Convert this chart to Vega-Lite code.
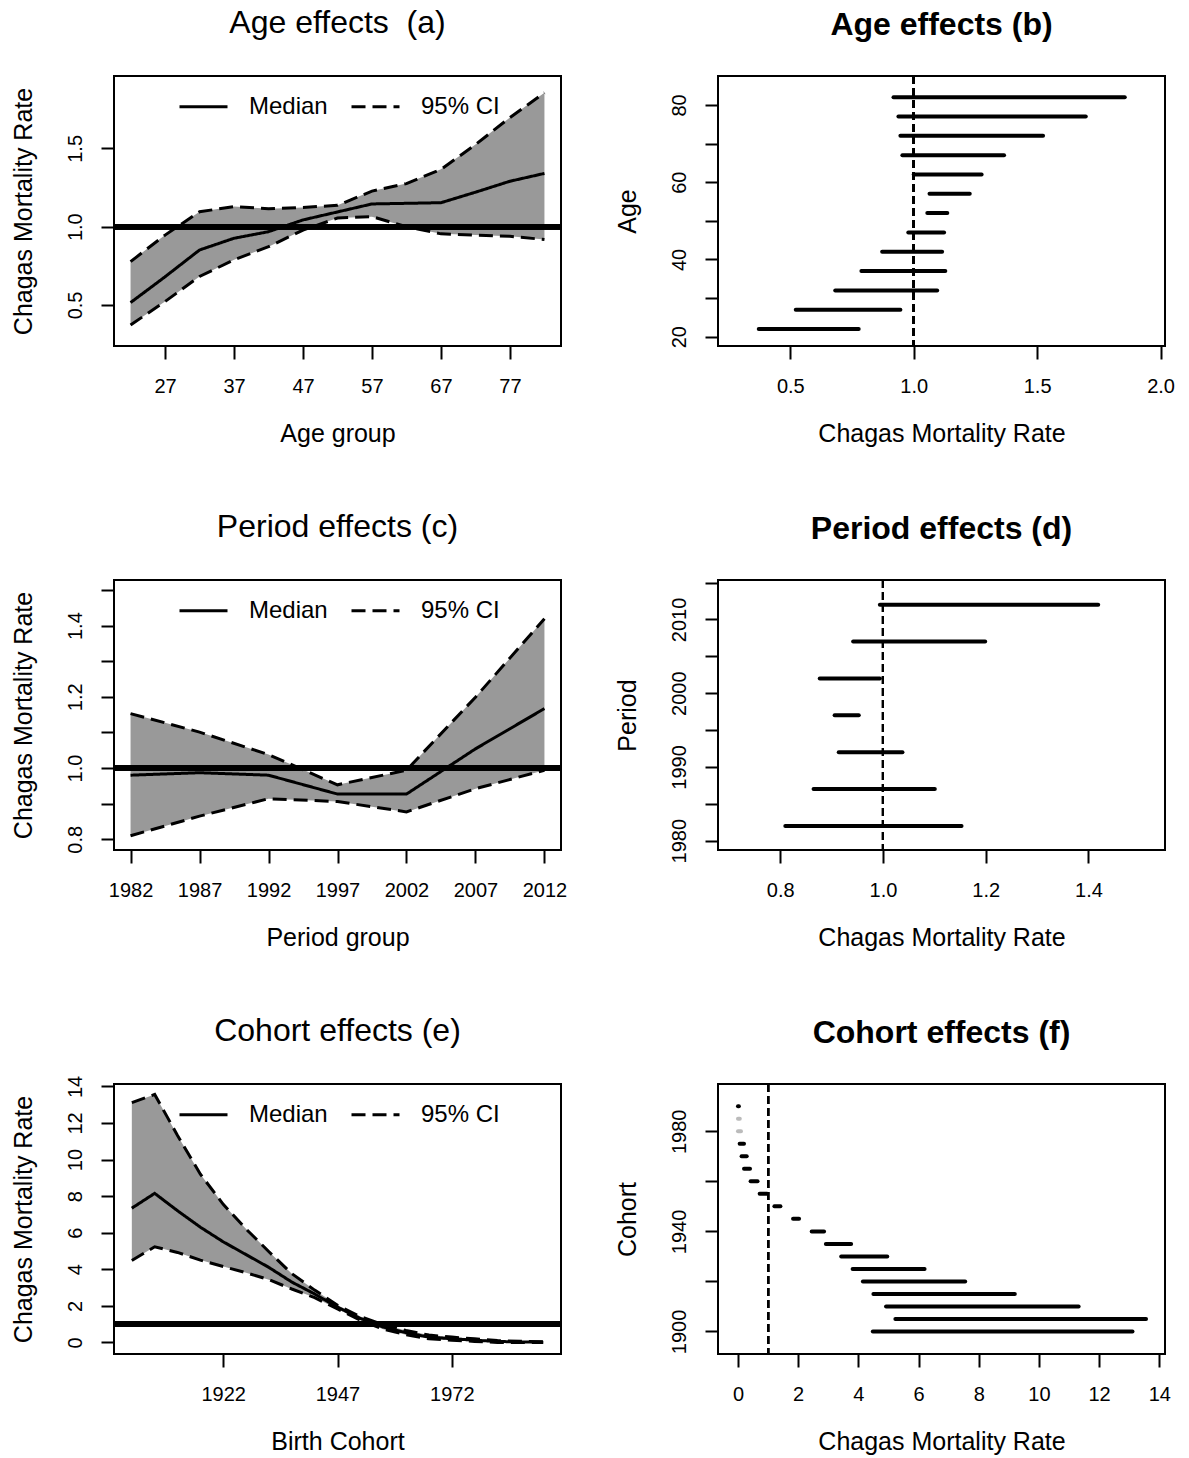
{
  "$schema": "https://vega.github.io/schema/vega-lite/v6.json",
  "background": "white",
  "padding": {"left": 9, "top": 6, "right": 10, "bottom": 10},
  "bounds": "flush",
  "columns": 2,
  "spacing": {"row": 234, "column": 157},
  "config": {
    "font": "Liberation Sans",
    "view": {"stroke": "black", "strokeWidth": 2},
    "axis": {
      "domain": false, "grid": false, "tickColor": "black", "tickWidth": 2, "tickSize": 13,
      "labelFont": "Liberation Sans", "labelFontSize": 20, "labelColor": "black",
      "labelFlush": false, "labelOverlap": false, "labelBound": false,
      "titleFont": "Liberation Sans", "titleFontSize": 25, "titleFontWeight": "normal", "titleColor": "black"
    },
    "axisX": {"labelBaseline": "alphabetic", "labelPadding": 33, "titleY": 95, "titleBaseline": "alphabetic"},
    "axisY": {"labelAngle": -90, "labelAlign": "center", "labelBaseline": "alphabetic", "labelPadding": 20, "titleX": -91, "titleBaseline": "middle"},
    "title": {"font": "Liberation Sans", "fontSize": 32, "fontWeight": "normal", "color": "black", "anchor": "middle", "frame": "group", "offset": 36, "baseline": "alphabetic"},
    "legend": {
      "orient": "none", "legendX": 64, "legendY": 5, "direction": "horizontal",
      "symbolType": "stroke", "symbolSize": 2304, "symbolStrokeWidth": 3, "symbolStrokeColor": "black",
      "labelFont": "Liberation Sans", "labelFontSize": 24, "labelColor": "black", "labelOffset": 20,
      "columnPadding": 17, "padding": 0
    }
  },
  "datasets": {
    "age": [
      {"age": 22, "median": 0.515, "lower": 0.372, "upper": 0.777},
      {"age": 27, "median": 0.68, "lower": 0.522, "upper": 0.946},
      {"age": 32, "median": 0.851, "lower": 0.682, "upper": 1.095},
      {"age": 37, "median": 0.926, "lower": 0.788, "upper": 1.128},
      {"age": 42, "median": 0.968, "lower": 0.872, "upper": 1.115},
      {"age": 47, "median": 1.043, "lower": 0.978, "upper": 1.123},
      {"age": 52, "median": 1.094, "lower": 1.055, "upper": 1.136},
      {"age": 57, "median": 1.145, "lower": 1.064, "upper": 1.227},
      {"age": 62, "median": 1.149, "lower": 1.0, "upper": 1.275},
      {"age": 67, "median": 1.153, "lower": 0.954, "upper": 1.366},
      {"age": 72, "median": 1.22, "lower": 0.946, "upper": 1.524},
      {"age": 77, "median": 1.29, "lower": 0.938, "upper": 1.697},
      {"age": 82, "median": 1.34, "lower": 0.918, "upper": 1.855}
    ],
    "period": [
      {"period": 1982, "median": 0.98, "lower": 0.81, "upper": 1.153},
      {"period": 1987, "median": 0.987, "lower": 0.865, "upper": 1.101},
      {"period": 1992, "median": 0.98, "lower": 0.914, "upper": 1.038},
      {"period": 1997, "median": 0.927, "lower": 0.906, "upper": 0.953},
      {"period": 2002, "median": 0.927, "lower": 0.877, "upper": 0.994},
      {"period": 2007, "median": 1.054, "lower": 0.942, "upper": 1.199},
      {"period": 2012, "median": 1.167, "lower": 0.994, "upper": 1.419}
    ],
    "cohort": [
      {"cohort": 1900, "birth": 1902, "median": 7.34, "lower": 4.48, "upper": 13.11},
      {"cohort": 1905, "birth": 1907, "median": 8.15, "lower": 5.23, "upper": 13.56},
      {"cohort": 1910, "birth": 1912, "median": 7.2, "lower": 4.92, "upper": 11.32},
      {"cohort": 1915, "birth": 1917, "median": 6.3, "lower": 4.5, "upper": 9.2},
      {"cohort": 1920, "birth": 1922, "median": 5.5, "lower": 4.15, "upper": 7.55},
      {"cohort": 1925, "birth": 1927, "median": 4.8, "lower": 3.81, "upper": 6.2},
      {"cohort": 1930, "birth": 1932, "median": 4.1, "lower": 3.43, "upper": 4.96},
      {"cohort": 1935, "birth": 1937, "median": 3.3, "lower": 2.92, "upper": 3.76},
      {"cohort": 1940, "birth": 1942, "median": 2.65, "lower": 2.45, "upper": 2.86},
      {"cohort": 1945, "birth": 1947, "median": 1.93, "lower": 1.83, "upper": 2.03},
      {"cohort": 1950, "birth": 1952, "median": 1.31, "lower": 1.21, "upper": 1.41},
      {"cohort": 1955, "birth": 1957, "median": 0.84, "lower": 0.72, "upper": 0.97},
      {"cohort": 1960, "birth": 1962, "median": 0.53, "lower": 0.42, "upper": 0.65},
      {"cohort": 1965, "birth": 1967, "median": 0.29, "lower": 0.2, "upper": 0.4},
      {"cohort": 1970, "birth": 1972, "median": 0.2, "lower": 0.12, "upper": 0.29},
      {"cohort": 1975, "birth": 1977, "median": 0.12, "lower": 0.055, "upper": 0.2},
      {"cohort": 1980, "birth": 1982, "median": 0.05, "lower": 0.0, "upper": 0.1},
      {"cohort": 1985, "birth": 1987, "median": 0.03, "lower": 0.0, "upper": 0.06},
      {"cohort": 1990, "birth": 1992, "median": 0.015, "lower": 0.0, "upper": 0.03}
    ]
  },
  "resolve": {"scale": {"strokeDash": "independent"}, "legend": {"strokeDash": "independent"}},
  "concat": [
    {
      "width": 447, "height": 270,
      "title": {"text": "Age effects \u00a0(a)"},
      "data": {"name": "age"},
      "layer": [
        {"mark": {"type": "area", "color": "#999999"},
         "encoding": {
           "x": {"field": "age", "type": "quantitative", "scale": {"domain": [19.6, 84.4], "nice": false, "zero": false}, "axis": {"values": [27, 37, 47, 57, 67, 77], "tickCount": 30, "format": "d", "labelOverlap": false, "title": "Age group"}},
           "y": {"field": "lower", "type": "quantitative", "scale": {"domain": [0.238, 1.962], "nice": false, "zero": false}, "axis": {"values": [0.5, 1.0, 1.5], "tickCount": 30, "format": ".1f", "labelOverlap": false, "title": "Chagas Mortality Rate"}},
           "y2": {"field": "upper"}}},
        {"mark": {"type": "line", "color": "black", "strokeWidth": 3},
         "encoding": {"x": {"field": "age", "type": "quantitative"}, "y": {"field": "median", "type": "quantitative"},
           "strokeDash": {"datum": "Median", "type": "nominal", "scale": {"domain": ["Median", "95% CI"], "range": [[1, 0], [14, 7]]}, "legend": {"title": null}}}},
        {"mark": {"type": "line", "color": "black", "strokeWidth": 3},
         "encoding": {"x": {"field": "age", "type": "quantitative"}, "y": {"field": "lower", "type": "quantitative"}, "strokeDash": {"datum": "95% CI", "type": "nominal"}}},
        {"mark": {"type": "line", "color": "black", "strokeWidth": 3},
         "encoding": {"x": {"field": "age", "type": "quantitative"}, "y": {"field": "upper", "type": "quantitative"}, "strokeDash": {"datum": "95% CI", "type": "nominal"}}},
        {"mark": {"type": "rule", "color": "black", "strokeWidth": 5}, "encoding": {"y": {"datum": 1}}}
      ]
    },
    {
      "width": 447, "height": 270,
      "title": {"text": "Age effects (b)", "fontWeight": "bold", "offset": 33},
      "data": {"name": "age"},
      "layer": [
        {"mark": {"type": "rule", "color": "black", "strokeWidth": 4, "strokeCap": "round"},
         "encoding": {
           "x": {"field": "lower", "type": "quantitative", "scale": {"domain": [0.207, 2.018], "nice": false, "zero": false}, "axis": {"values": [0.5, 1.0, 1.5, 2.0], "tickCount": 30, "format": ".1f", "labelOverlap": false, "title": "Chagas Mortality Rate"}},
           "x2": {"field": "upper"},
           "y": {"field": "age", "type": "quantitative", "scale": {"domain": [17.6, 87.5], "nice": false, "zero": false}, "axis": {"values": [20, 30, 40, 50, 60, 70, 80], "tickCount": 30, "format": "d", "labelOverlap": false, "labelExpr": "datum.value % 20 === 0 ? datum.label : ''", "title": "Age"}}}},
        {"mark": {"type": "rule", "color": "black", "strokeWidth": 2, "strokeDash": [8, 4]}, "encoding": {"x": {"datum": 1}}}
      ]
    },
    {
      "width": 447, "height": 270,
      "title": {"text": "Period effects (c)"},
      "data": {"name": "period"},
      "layer": [
        {"mark": {"type": "area", "color": "#999999"},
         "encoding": {
           "x": {"field": "period", "type": "quantitative", "scale": {"domain": [1980.8, 2013.2], "nice": false, "zero": false}, "axis": {"values": [1982, 1987, 1992, 1997, 2002, 2007, 2012], "tickCount": 30, "format": "d", "labelOverlap": false, "title": "Period group"}},
           "y": {"field": "lower", "type": "quantitative", "scale": {"domain": [0.77, 1.528], "nice": false, "zero": false}, "axis": {"values": [0.8, 0.9, 1.0, 1.1, 1.2, 1.3, 1.4, 1.5], "tickCount": 30, "format": ".1f", "labelOverlap": false, "labelExpr": "indexof(['0.8','1.0','1.2','1.4'], datum.label) >= 0 ? datum.label : ''", "title": "Chagas Mortality Rate"}},
           "y2": {"field": "upper"}}},
        {"mark": {"type": "line", "color": "black", "strokeWidth": 3},
         "encoding": {"x": {"field": "period", "type": "quantitative"}, "y": {"field": "median", "type": "quantitative"},
           "strokeDash": {"datum": "Median", "type": "nominal", "scale": {"domain": ["Median", "95% CI"], "range": [[1, 0], [14, 7]]}, "legend": {"title": null}}}},
        {"mark": {"type": "line", "color": "black", "strokeWidth": 3},
         "encoding": {"x": {"field": "period", "type": "quantitative"}, "y": {"field": "lower", "type": "quantitative"}, "strokeDash": {"datum": "95% CI", "type": "nominal"}}},
        {"mark": {"type": "line", "color": "black", "strokeWidth": 3},
         "encoding": {"x": {"field": "period", "type": "quantitative"}, "y": {"field": "upper", "type": "quantitative"}, "strokeDash": {"datum": "95% CI", "type": "nominal"}}},
        {"mark": {"type": "rule", "color": "black", "strokeWidth": 5}, "encoding": {"y": {"datum": 1}}}
      ]
    },
    {
      "width": 447, "height": 270,
      "title": {"text": "Period effects (d)", "fontWeight": "bold", "offset": 33},
      "data": {"name": "period"},
      "layer": [
        {"mark": {"type": "rule", "color": "black", "strokeWidth": 4, "strokeCap": "round"},
         "encoding": {
           "x": {"field": "lower", "type": "quantitative", "scale": {"domain": [0.679, 1.549], "nice": false, "zero": false}, "axis": {"values": [0.8, 1.0, 1.2, 1.4], "tickCount": 30, "format": ".1f", "labelOverlap": false, "title": "Chagas Mortality Rate"}},
           "x2": {"field": "upper"},
           "y": {"field": "period", "type": "quantitative", "scale": {"domain": [1978.73, 2015.35], "nice": false, "zero": false}, "axis": {"values": [1980, 1985, 1990, 1995, 2000, 2005, 2010, 2015], "tickCount": 30, "format": "d", "labelOverlap": false, "labelExpr": "datum.value % 10 === 0 ? datum.label : ''", "title": "Period"}}}},
        {"mark": {"type": "rule", "color": "black", "strokeWidth": 2, "strokeDash": [8, 4]}, "encoding": {"x": {"datum": 1}}}
      ]
    },
    {
      "width": 447, "height": 270,
      "title": {"text": "Cohort effects (e)", "offset": 27},
      "data": {"name": "cohort"},
      "layer": [
        {"mark": {"type": "area", "color": "#999999"},
         "encoding": {
           "x": {"field": "birth", "type": "quantitative", "scale": {"domain": [1898.1, 1995.9], "nice": false, "zero": false}, "axis": {"values": [1922, 1947, 1972], "tickCount": 30, "format": "d", "labelOverlap": false, "title": "Birth Cohort"}},
           "y": {"field": "lower", "type": "quantitative", "scale": {"domain": [-0.634, 14.13], "nice": false, "zero": false}, "axis": {"values": [0, 2, 4, 6, 8, 10, 12, 14], "tickCount": 30, "format": "d", "labelOverlap": false, "title": "Chagas Mortality Rate"}},
           "y2": {"field": "upper"}}},
        {"mark": {"type": "line", "color": "black", "strokeWidth": 3},
         "encoding": {"x": {"field": "birth", "type": "quantitative"}, "y": {"field": "median", "type": "quantitative"},
           "strokeDash": {"datum": "Median", "type": "nominal", "scale": {"domain": ["Median", "95% CI"], "range": [[1, 0], [14, 7]]}, "legend": {"title": null}}}},
        {"mark": {"type": "line", "color": "black", "strokeWidth": 3},
         "encoding": {"x": {"field": "birth", "type": "quantitative"}, "y": {"field": "lower", "type": "quantitative"}, "strokeDash": {"datum": "95% CI", "type": "nominal"}}},
        {"mark": {"type": "line", "color": "black", "strokeWidth": 3},
         "encoding": {"x": {"field": "birth", "type": "quantitative"}, "y": {"field": "upper", "type": "quantitative"}, "strokeDash": {"datum": "95% CI", "type": "nominal"}}},
        {"mark": {"type": "rule", "color": "black", "strokeWidth": 5}, "encoding": {"y": {"datum": 1}}}
      ]
    },
    {
      "width": 447, "height": 270,
      "title": {"text": "Cohort effects (f)", "fontWeight": "bold", "offset": 33},
      "data": {"name": "cohort"},
      "layer": [
        {"mark": {"type": "rule", "strokeWidth": 4, "strokeCap": "round"},
         "encoding": {
           "x": {"field": "lower", "type": "quantitative", "scale": {"domain": [-0.664, 14.19], "nice": false, "zero": false}, "axis": {"values": [0, 2, 4, 6, 8, 10, 12, 14], "tickCount": 30, "format": "d", "labelOverlap": false, "title": "Chagas Mortality Rate"}},
           "x2": {"field": "upper"},
           "y": {"field": "cohort", "type": "quantitative", "scale": {"domain": [1891.0, 1998.9], "nice": false, "zero": false}, "axis": {"values": [1900, 1920, 1940, 1960, 1980], "tickCount": 30, "format": "d", "labelOverlap": false, "labelExpr": "datum.value % 40 === 20 ? datum.label : ''", "title": "Cohort"}},
           "color": {"condition": {"test": "datum.cohort === 1980 || datum.cohort === 1985", "value": "#bbbbbb"}, "value": "black"}}},
        {"mark": {"type": "rule", "color": "black", "strokeWidth": 2, "strokeDash": [8, 4]}, "encoding": {"x": {"datum": 1}}}
      ]
    }
  ]
}
